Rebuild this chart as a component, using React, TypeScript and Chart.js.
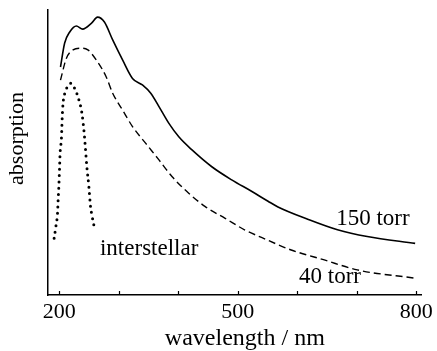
import React, { useEffect, useRef } from "react";
import { Chart, registerables } from "chart.js";

Chart.register(...registerables);

// 150 torr (solid)
const solidWavelength = [202, 209, 217.5, 228.7, 239.2, 254.2, 264.2, 275.8, 289.7, 306.3, 323, 339.7, 353.7, 367.5, 384.2, 400.8, 423, 456.3, 489.7, 523, 550.8, 567.5, 617.5, 667.5, 717.5, 798];
const solidAbsorption = [80, 88.4, 92.3, 94.4, 93.3, 95.4, 97.5, 95.8, 89.5, 82.5, 76, 73.7, 70.8, 66.1, 60.2, 55.5, 50.9, 45, 40.4, 36.4, 32.9, 30.9, 26.6, 22.9, 20.5, 18.1];

// 40 torr (dashed)
const dashedWavelength = [202, 212, 223, 235.8, 248, 262, 278.7, 289.7, 306.3, 323, 345.3, 367.5, 389.7, 417.5, 445.3, 478.7, 512, 539.7, 589.7, 645.3, 700.8, 798];
const dashedAbsorption = [75.4, 83.1, 86, 86.6, 86, 82.5, 76.6, 70.8, 64.9, 59.1, 53.2, 47.4, 41.5, 35.7, 31, 26.9, 22.8, 20.2, 15.8, 12.3, 8.8, 5.9];

// interstellar (dotted)
const dottedWavelength = [191.3, 194.2, 197, 198, 199.2, 200.3, 201.3, 203.7, 204.7, 206.3, 209.2, 213.7, 219.2, 225.8, 231.3, 238, 241.3, 243.7, 246.3, 249.7, 252.5, 255.3, 258];
const dottedAbsorption = [19.9, 24, 28.7, 33.3, 38, 43.9, 49.7, 55.5, 61.4, 67.3, 70.8, 73.1, 74.3, 72.5, 69.6, 63.8, 57.9, 52, 45, 38, 31, 27.5, 24.6];

const xTickValues = [200, 300, 400, 500, 600, 700, 800];
const xTickLabels = ["200", "", "", "500", "", "", "800"];

const annotationTexts = ["150 torr", "40 torr", "interstellar"];
const annotationWavelength = [727, 655, 351];
const annotationAbsorption = [24.6, 4.1, 14];

const xTitle = "wavelength / nm";
const yTitle = "absorption";

const FONT = "'Liberation Serif', 'Times New Roman', serif";

function toPoints(xs: number[], ys: number[]) {
  return xs.map((x, i) => ({ x, y: ys[i] }));
}

export default function App() {
  const canvasRef = useRef<HTMLCanvasElement | null>(null);

  useEffect(() => {
    if (!canvasRef.current) return;

    const overlay = {
      id: "overlay",
      afterDraw(chart: any) {
        const { ctx, chartArea, scales } = chart;
        const xs = scales.x;
        const ys = scales.y;
        ctx.save();
        // inward ticks on x axis
        ctx.strokeStyle = "#000";
        ctx.lineWidth = 1.2;
        xTickValues.forEach((v) => {
          const px = Math.round(xs.getPixelForValue(v)) + 0.5;
          ctx.beginPath();
          ctx.moveTo(px, chartArea.bottom);
          ctx.lineTo(px, chartArea.bottom - 4);
          ctx.stroke();
        });
        ctx.fillStyle = "#000";
        // annotations
        ctx.font = `23px ${FONT}`;
        ctx.textAlign = "center";
        ctx.textBaseline = "alphabetic";
        annotationTexts.forEach((t, i) => {
          ctx.fillText(
            t,
            xs.getPixelForValue(annotationWavelength[i]),
            ys.getPixelForValue(annotationAbsorption[i])
          );
        });
        // x title
        ctx.font = `24px ${FONT}`;
        ctx.fillText(xTitle, (chartArea.left + chartArea.right) / 2 + 10, chartArea.bottom + 50);
        // y title
        ctx.font = `22px ${FONT}`;
        ctx.translate(chartArea.left - 31, (chartArea.top + chartArea.bottom) / 2 - 14);
        ctx.rotate(-Math.PI / 2);
        ctx.textBaseline = "middle";
        ctx.fillText(yTitle, 0, 0);
        ctx.restore();
      },
    };

    const chart = new Chart(canvasRef.current, {
      type: "line",
      data: {
        datasets: [
          {
            label: "150 torr",
            data: toPoints(solidWavelength, solidAbsorption),
            borderColor: "#000",
            borderWidth: 1.6,
            pointRadius: 0,
            cubicInterpolationMode: "monotone",
            fill: false,
          },
          {
            label: "40 torr",
            data: toPoints(dashedWavelength, dashedAbsorption),
            borderColor: "#000",
            borderWidth: 1.4,
            borderDash: [7, 4],
            pointRadius: 0,
            cubicInterpolationMode: "monotone",
            fill: false,
          },
          {
            label: "interstellar",
            data: toPoints(dottedWavelength, dottedAbsorption),
            borderColor: "#000",
            borderWidth: 3,
            borderDash: [0, 6.3],
            borderCapStyle: "round",
            pointRadius: 0,
            cubicInterpolationMode: "monotone",
            fill: false,
          },
        ],
      },
      options: {
        animation: false,
        responsive: true,
        maintainAspectRatio: false,
        layout: { padding: { left: 0, top: 10, right: 12, bottom: 0 } },
        plugins: {
          legend: { display: false },
          tooltip: { enabled: false },
        },
        scales: {
          x: {
            type: "linear",
            min: 181,
            max: 809,
            afterBuildTicks: (scale: any) => {
              scale.ticks = xTickValues.map((v) => ({ value: v }));
            },
            afterFit: (scale: any) => {
              scale.height = 56;
            },
            ticks: {
              autoSkip: false,
              maxRotation: 0,
              padding: 4,
              color: "#000",
              font: { family: FONT, size: 22 },
              callback: (v: any) => {
                const i = xTickValues.indexOf(Number(v));
                return i >= 0 ? xTickLabels[i] : "";
              },
            },
            grid: { display: false, drawTicks: false },
            border: { display: true, color: "#000", width: 1.5 },
          },
          y: {
            type: "linear",
            min: 0,
            max: 100,
            afterFit: (scale: any) => {
              scale.width = 48;
            },
            ticks: { display: false },
            grid: { display: false, drawTicks: false },
            border: { display: true, color: "#000", width: 1.5 },
          },
        },
      },
      plugins: [overlay],
    } as any);

    return () => chart.destroy();
  }, []);

  return (
    <div style={{ position: "fixed", left: 0, top: 0, width: 437, height: 351, background: "#fff" }}>
      <canvas ref={canvasRef} />
    </div>
  );
}
